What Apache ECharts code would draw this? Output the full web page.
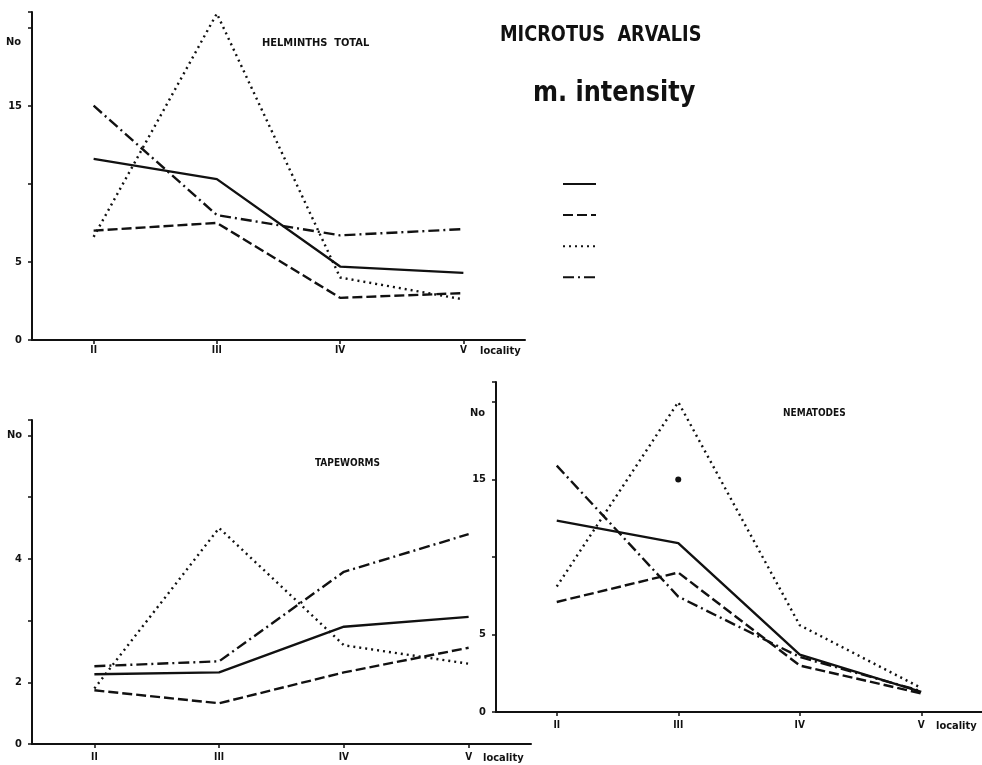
<!DOCTYPE html>
<html>
<head>
<meta charset="utf-8">
<script src="https://cdn.jsdelivr.net/npm/echarts@6/dist/echarts.min.js"></script>
<style>html,body{margin:0;padding:0;background:#fff;}#c{width:982px;height:765px;}</style>
</head>
<body>
<div id="c"></div>
<script>
// ---- data ----
const categories = ['II', 'III', 'IV', 'V'];
const seriesNames = ['solid', 'dashed', 'dotted', 'dash-dot'];

const totalSolid   = [11.6, 10.3, 4.7, 4.3];
const totalDashed  = [7.0, 7.5, 2.7, 3.0];
const totalDotted  = [6.6, 20.9, 4.0, 2.6];
const totalDashDot = [15.0, 8.0, 6.7, 7.1];

const tapeSolid   = [2.13, 2.16, 2.9, 3.06];
const tapeDashed  = [1.87, 1.66, 2.16, 2.56];
const tapeDotted  = [1.9, 4.5, 2.6, 2.3];
const tapeDashDot = [2.26, 2.34, 3.79, 4.4];

const nemaSolid   = [12.35, 10.9, 3.7, 1.3];
const nemaDashed  = [7.1, 9.0, 3.0, 1.2];
const nemaDotted  = [8.1, 20.0, 5.6, 1.55];
const nemaDashDot = [15.9, 7.45, 3.55, 1.35];
const nemaMark    = ['-', 15, '-', '-'];

// tick labels (one entry per tick from axis min)
const totalTickLabels = ['0', '5', '', '15', ''];
const tapeTickLabels  = ['0', '2', '', '4', '', 'No'];
const nemaTickLabels  = ['0', '5', '', '15', ''];

const titleMain = 'MICROTUS  ARVALIS';
const titleSub = 'm. intensity';
const panelTitles = ['HELMINTHS  TOTAL', 'TAPEWORMS', 'NEMATODES'];
const yName = 'No';
const xName = 'locality';

// ---- styles ----
const INK = '#111';
const FONT = "'DejaVu Sans Condensed', 'Liberation Sans Narrow', sans-serif";
const dashTypes = ['solid', [10, 4], [2, 4], [11, 4, 2, 4]];

function lineSeries(name, data, idx, styleIdx) {
  return {
    name: name, type: 'line', data: data,
    xAxisIndex: idx, yAxisIndex: idx,
    symbol: 'none', silent: true,
    lineStyle: { color: INK, width: 2.4, type: dashTypes[styleIdx], cap: 'butt' },
    itemStyle: { color: INK }
  };
}

function xAxisOf(gridIndex, margin, nameGap) {
  return {
    type: 'category', gridIndex: gridIndex, data: categories, boundaryGap: true,
    axisLine: { lineStyle: { color: INK, width: 2 } },
    axisTick: { show: true, alignWithLabel: true, length: 4, lineStyle: { color: INK, width: 1.5 } },
    axisLabel: { color: INK, fontFamily: FONT, fontWeight: 'bold', fontSize: 10, margin: margin },
    splitLine: { show: false },
    name: xName, nameLocation: 'end', nameGap: nameGap,
    nameTextStyle: { color: INK, fontFamily: FONT, fontWeight: 'bold', fontSize: 11,
      align: 'left', verticalAlign: 'top', padding: [margin + 1, 0, 0, 0] }
  };
}

function yAxisOf(gridIndex, min, max, interval, labels, withName, nameGap) {
  const ax = {
    type: 'value', gridIndex: gridIndex, min: min, max: max, interval: interval,
    axisLine: { show: true, lineStyle: { color: INK, width: 2 } },
    axisTick: { show: true, length: 4, lineStyle: { color: INK, width: 1.5 } },
    axisLabel: {
      color: INK, fontFamily: FONT, fontWeight: 'bold', fontSize: 11, margin: 10,
      formatter: function (v) {
        const k = (v - min) / interval;
        if (Math.abs(k - Math.round(k)) > 1e-6) return '';
        return labels[Math.round(k)] || '';
      }
    },
    splitLine: { show: false }
  };
  if (withName) {
    ax.name = yName; ax.nameLocation = 'end'; ax.nameGap = nameGap;
    ax.nameTextStyle = { color: INK, fontFamily: FONT, fontWeight: 'bold', fontSize: 11,
      align: 'right', verticalAlign: 'middle', padding: [0, 11, 0, 0] };
  }
  return ax;
}

function textEl(str, x, y, size, sx) {
  return {
    type: 'text', x: x, y: y, scaleX: sx, silent: true,
    style: { text: str, fill: INK, font: 'bold ' + size + 'px ' + FONT,
      textAlign: 'left', textVerticalAlign: 'middle' }
  };
}

const chart = echarts.init(document.getElementById('c'), null, { renderer: 'canvas' });

const series = [];
const sets = [
  [totalSolid, totalDashed, totalDotted, totalDashDot],
  [tapeSolid, tapeDashed, tapeDotted, tapeDashDot],
  [nemaSolid, nemaDashed, nemaDotted, nemaDashDot]
];
sets.forEach(function (set, gi) {
  set.forEach(function (d, si) { series.push(lineSeries(seriesNames[si], d, gi, si)); });
});
series.push({
  type: 'scatter', name: 'mark', data: nemaMark, xAxisIndex: 2, yAxisIndex: 2,
  symbol: 'circle', symbolSize: 6, itemStyle: { color: INK, opacity: 1 }, silent: true
});

const option = {
  animation: false,
  backgroundColor: '#fff',
  graphic: [
    textEl(titleMain, 500, 36, 20.5, 0.96),
    textEl(titleSub, 533, 93, 29, 0.92),
    textEl(panelTitles[0], 262, 43, 11, 1),
    textEl(panelTitles[1], 315, 463, 10, 1),
    textEl(panelTitles[2], 783, 413, 10, 1)
  ],
  legend: {
    data: seriesNames, orient: 'vertical', left: 562, top: 177, padding: 0,
    itemWidth: 33, itemHeight: 14, itemGap: 18.5,
    formatter: function () { return ''; },
    itemStyle: { opacity: 0 },
    textStyle: { fontSize: 10 }, selectedMode: false
  },
  grid: [
    { left: 32, top: 12, right: 457, bottom: 425 },
    { left: 32, top: 420, right: 451, bottom: 21 },
    { left: 496, top: 382, right: -14, bottom: 53 }
  ],
  xAxis: [
    xAxisOf(0, 5, -45),
    xAxisOf(1, 8, -48),
    xAxisOf(2, 8, -46)
  ],
  yAxis: [
    yAxisOf(0, 0, 21, 5, totalTickLabels, true, -30),
    yAxisOf(1, 1, 6.25, 1, tapeTickLabels, false, 0),
    yAxisOf(2, 0, 21.3, 5, nemaTickLabels, true, -31)
  ],
  series: series
};
chart.setOption(option);
</script>
</body>
</html>
